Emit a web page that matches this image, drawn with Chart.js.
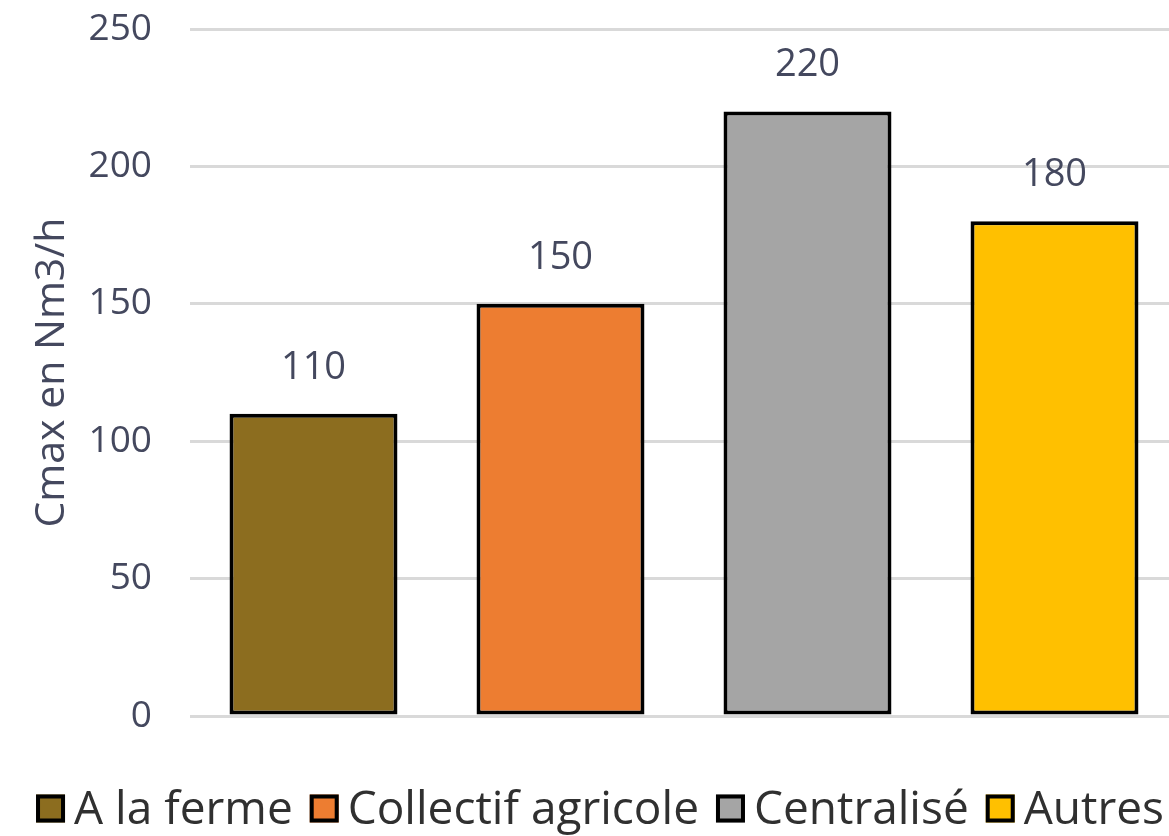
<!DOCTYPE html>
<html>
<head>
<meta charset="utf-8">
<script src="https://cdn.jsdelivr.net/npm/chart.js@4/dist/chart.umd.min.js"></script>
<style>
  html, body { margin: 0; padding: 0; overflow: hidden; background: #ffffff; }
  #wrap { width: 1202px; height: 836px; position: relative; }
</style>
</head>
<body>
<div id="wrap"><canvas id="chart"></canvas></div>
<script>
// Capacité maximale par type de site
const categories = ['A la ferme', 'Collectif agricole', 'Centralisé', 'Autres'];
const values = [110, 150, 220, 180];
const barColors = ['#8C6D1F', '#ED7D31', '#A5A5A5', '#FFC000'];
const yTicks = [0, 50, 100, 150, 200, 250];

const FONT = '"Open Sans", "Noto Sans", sans-serif';
const AXIS_TEXT = '#44485E';
const LEGEND_TEXT = '#303030';

// one dataset per category so each gets its own legend entry
const datasets = categories.map((name, i) => ({
  label: name,
  data: categories.map((_, j) => (j === i ? values[i] : null)),
  backgroundColor: barColors[i],
  borderColor: '#000000',
  borderWidth: 4,
  borderSkipped: false,
  barPercentage: 0.68,
  categoryPercentage: 1.0
}));

// value written above each bar
const valueLabels = {
  id: 'valueLabels',
  afterDatasetsDraw(chart) {
    const ctx = chart.ctx;
    ctx.save();
    ctx.font = '38px ' + FONT;
    ctx.fillStyle = AXIS_TEXT;
    ctx.textAlign = 'center';
    ctx.textBaseline = 'middle';
    chart.data.datasets.forEach((ds, i) => {
      chart.getDatasetMeta(i).data.forEach((bar, j) => {
        const v = ds.data[j];
        if (v === null || v === undefined) return;
        ctx.fillText(String(v), bar.x, bar.y - 46);
      });
    });
    ctx.restore();
  }
};

// compact legend row under the plot: box, short gap, label
const compactLegend = {
  id: 'compactLegend',
  afterDraw(chart) {
    const ctx = chart.ctx;
    const box = 29, gapText = 9, gapItem = 17;
    ctx.save();
    ctx.font = '46px ' + FONT;
    ctx.textBaseline = 'middle';
    ctx.textAlign = 'left';
    const items = chart.data.datasets.map(ds => ({
      text: ds.label,
      fill: ds.backgroundColor,
      w: ctx.measureText(ds.label).width
    }));
    const total = items.reduce((s, it) => s + box + gapText + it.w, 0) + gapItem * (items.length - 1);
    let x = 600 - total / 2;
    const cy = 809;
    items.forEach(it => {
      ctx.fillStyle = it.fill;
      ctx.fillRect(x, cy - box / 2, box, box - 1);
      ctx.lineWidth = 4;
      ctx.strokeStyle = '#000000';
      ctx.strokeRect(x + 2, cy - box / 2 + 2, box - 4, box - 5);
      x += box + gapText;
      ctx.fillStyle = LEGEND_TEXT;
      ctx.fillText(it.text, x, cy + 2);
      x += it.w + gapItem;
    });
    ctx.restore();
  }
};

new Chart(document.getElementById('chart'), {
  type: 'bar',
  data: { labels: categories, datasets },
  plugins: [valueLabels, compactLegend],
  options: {
    responsive: true,
    maintainAspectRatio: false,
    animation: false,
    datasets: { bar: { grouped: false } },
    layout: { padding: { top: 0, right: 24, bottom: 0, left: 0 } },
    plugins: {
      tooltip: { enabled: false },
      legend: { display: false }
    },
    scales: {
      x: {
        display: true,
        ticks: { display: false },
        grid: { display: false, drawTicks: false },
        border: { display: false },
        afterFit(axis) { axis.height = 120; }
      },
      y: {
        min: 0,
        max: 250,
        afterBuildTicks(axis) { axis.ticks = yTicks.map(v => ({ value: v })); },
        ticks: {
          font: { family: FONT, size: 37 },
          color: AXIS_TEXT,
          padding: 38
        },
        grid: { color: '#D9D9D9', lineWidth: 3, drawTicks: false },
        border: { display: false },
        title: {
          display: true,
          text: 'Cmax en Nm3/h',
          font: { family: FONT, size: 41 },
          color: AXIS_TEXT,
          padding: { top: 28, bottom: 0 }
        },
        afterFit(axis) {
          axis.width = 190;
          axis.paddingTop = 29;
          axis.paddingBottom = 0;
        }
      }
    }
  }
});
</script>
</body>
</html>
